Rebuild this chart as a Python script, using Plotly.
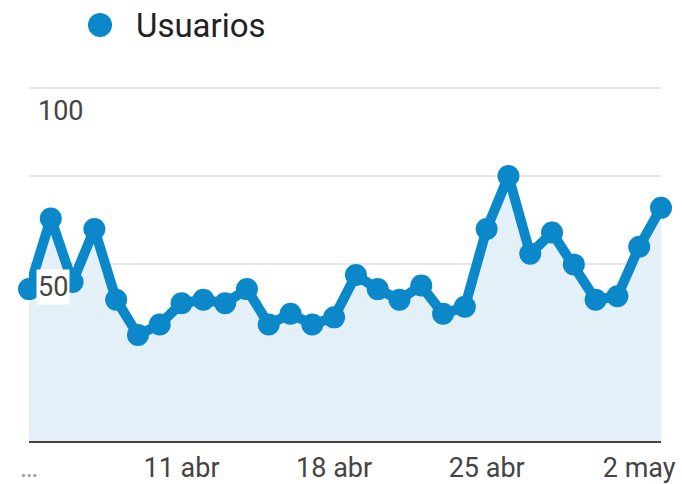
import plotly.graph_objects as go
import pandas as pd

dates = pd.date_range("2024-04-04", "2024-05-03", freq="D")
usuarios = [43, 63, 45, 60, 40, 30, 33, 39, 40, 39,
            43, 33, 36, 33, 35, 47, 43, 40, 44, 36,
            38, 60, 75, 53, 59, 50, 40, 41, 55, 66]
tick_dates = ["2024-04-04", "2024-04-11", "2024-04-18", "2024-04-25", "2024-05-02"]
tick_labels = ["<span style='color:#999'>…</span>", "11 abr", "18 abr", "25 abr", "2 may"]
y_ticks = [0, 25, 50, 75, 100]
y_labels = {100: "100", 50: "50"}

BLUE = "#0a88c9"
FONT = "Roboto"
W, H = 682, 484
ML, MR, MT, MB = 29, 21, 86, 43
PW, PH = W - ML - MR, H - MT - MB

fig = go.Figure()
fig.add_trace(go.Scatter(
    x=dates, y=usuarios, mode="lines+markers", name="Usuarios",
    line=dict(color=BLUE, width=10),
    marker=dict(color=BLUE, size=22),
    fill="tozeroy", fillcolor="#e4f0f7",
    cliponaxis=False, showlegend=False,
))

for v, t in y_labels.items():
    fig.add_annotation(x=0, xref="paper", y=v, yref="y", text=t,
                       xanchor="left", yanchor="top", xshift=7, yshift=-5,
                       showarrow=False, bgcolor="white", borderpad=1,
                       font=dict(family=FONT, size=27, color="#444"))

# legend
fig.add_shape(type="circle", xref="paper", yref="paper",
              x0=(88 - ML) / PW, x1=(112 - ML) / PW,
              y0=(H - MB - 37) / PH, y1=(H - MB - 13) / PH,
              fillcolor=BLUE, line=dict(width=0))
fig.add_annotation(x=(134 - ML) / PW, xref="paper", y=(H - MB - 25) / PH, yref="paper",
                   text="Usuarios", xanchor="left", yanchor="middle", showarrow=False,
                   font=dict(family=FONT, size=33, color="#222"))

fig.update_layout(
    width=W, height=H,
    margin=dict(l=ML, r=MR, t=MT, b=MB, autoexpand=False),
    paper_bgcolor="white", plot_bgcolor="white",
    showlegend=False,
    xaxis=dict(range=[dates[0], dates[-1]], tickvals=tick_dates, ticktext=tick_labels,
               showgrid=False, zeroline=False, showline=False, automargin=False,
               ticks="outside", ticklen=3, tickcolor="rgba(0,0,0,0)",
               tickfont=dict(family=FONT, size=27, color="#444")),
    yaxis=dict(range=[0, 100.5], tickvals=y_ticks, showticklabels=False, automargin=False,
               showgrid=True, gridcolor="#e6e6e6", gridwidth=2,
               zeroline=True, zerolinecolor="#444", zerolinewidth=3,
               showline=False),
)

fig.write_html("out.html", config={"displayModeBar": False},
               post_script="document.body.style.margin='0';document.body.style.overflow='hidden';")
